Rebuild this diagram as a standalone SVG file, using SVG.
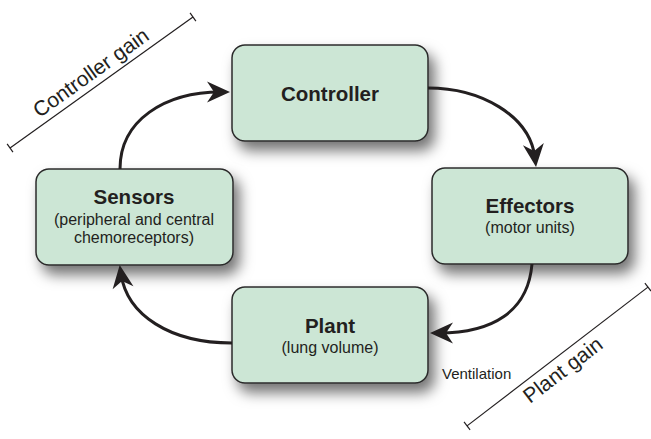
<svg xmlns="http://www.w3.org/2000/svg" width="651" height="439" viewBox="0 0 651 439">
  <style>
    .box { fill: #cce6d5; stroke: #2b2b2b; stroke-width: 1.5; filter: url(#shadow); }
    .title { font-family: "Liberation Sans", Arial, sans-serif; font-weight: bold; font-size: 20.5px; fill: #231f20; text-anchor: middle; }
    .sub { font-family: "Liberation Sans", Arial, sans-serif; font-size: 16px; fill: #231f20; text-anchor: middle; }
    .label { font-family: "Liberation Sans", Arial, sans-serif; font-size: 15px; fill: #231f20; }
    .gain { font-family: "Liberation Sans", Arial, sans-serif; font-size: 21px; fill: #231f20; text-anchor: middle; }
    .flow { fill: none; stroke: #231f20; stroke-width: 3; marker-end: url(#head); }
    .scale { stroke: #231f20; stroke-width: 1.2; fill: none; }
  </style>
  <defs>
    <filter id="shadow" x="-20%" y="-20%" width="150%" height="170%">
      <feDropShadow dx="6" dy="9" stdDeviation="7" flood-color="#000" flood-opacity="0.55"/>
    </filter>
    <marker id="head" markerUnits="userSpaceOnUse" markerWidth="30" markerHeight="30" refX="0" refY="0" orient="auto" overflow="visible">
      <path d="M9,0 L-14,-10.5 L-7,0 L-14,10.5 Z" fill="#231f20"/>
    </marker>
  </defs>

  <rect width="651" height="439" fill="#fff"/>

  <!-- gain scales -->
  <g id="controller-gain" transform="translate(101.5,82.5) rotate(-35.6)">
    <line class="scale" x1="-112.5" y1="0" x2="112.5" y2="0"/>
    <line class="scale" x1="-112.5" y1="-5" x2="-112.5" y2="5"/>
    <line class="scale" x1="112.5" y1="-5" x2="112.5" y2="5"/>
    <text class="gain" x="-3" y="-7">Controller gain</text>
  </g>
  <g id="plant-gain" transform="translate(557.5,356.5) rotate(-37.5)">
    <line class="scale" x1="-114" y1="0" x2="114" y2="0"/>
    <line class="scale" x1="-114" y1="-5" x2="-114" y2="5"/>
    <line class="scale" x1="114" y1="-5" x2="114" y2="5"/>
    <text class="gain" x="-4" y="21">Plant gain</text>
  </g>

  <!-- nodes -->
  <g id="controller">
    <rect class="box" x="232" y="45" width="196" height="96" rx="13"/>
    <text class="title" x="330" y="101">Controller</text>
  </g>
  <g id="effectors">
    <rect class="box" x="432" y="168" width="196" height="96" rx="13"/>
    <text class="title" x="530" y="213">Effectors</text>
    <text class="sub" x="530" y="233">(motor units)</text>
  </g>
  <g id="plant">
    <rect class="box" x="232" y="287" width="196" height="96" rx="13"/>
    <text class="title" x="330" y="333">Plant</text>
    <text class="sub" x="330" y="353">(lung volume)</text>
  </g>
  <g id="sensors">
    <rect class="box" x="36" y="169" width="197" height="96" rx="13"/>
    <text class="title" x="134" y="204">Sensors</text>
    <text class="sub" x="134" y="225">(peripheral and central</text>
    <text class="sub" x="134" y="243">chemoreceptors)</text>
  </g>

  <!-- connectors -->
  <g id="connectors">
    <path class="flow" d="M120,169 C120,120 165,92 221,92"/>
    <path class="flow" d="M428,88 C480,88 530,115 535,158"/>
    <path class="flow" d="M532,264 C528,312 492,333 439,333"/>
    <path class="flow" d="M232,343 C170,343 127,315 121,274"/>
    <text class="label" x="442" y="379">Ventilation</text>
  </g>
</svg>
